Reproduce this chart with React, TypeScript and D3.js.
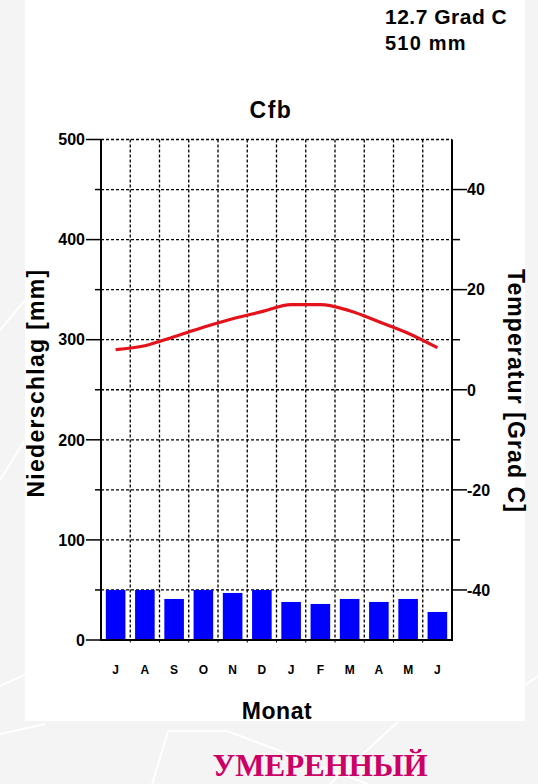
import React from "react";
import * as d3 from "d3";

const months = ["J", "A", "S", "O", "N", "D", "J", "F", "M", "A", "M", "J"];
const precipitation = [50, 50, 41, 50, 47, 50, 38, 36, 41, 38, 41, 28];
const temperature = [8, 8.8, 10.6, 12.5, 14.2, 15.6, 17, 17, 15.8, 13.6, 11.3, 8.4];
const precipTicks = [0, 100, 200, 300, 400, 500];
const precipMinorTicks = [50, 150, 250, 350, 450];
const precipGrid = [50, 100, 150, 200, 250, 300, 350, 400, 450, 500];
const tempTicks = [-40, -20, 0, 20, 40];
const tempMinorTicks = [-30, -10, 10, 30];
const titleText = "Cfb";
const meanTempText = "12.7 Grad C";
const totalPrecipText = "510 mm";
const xTitle = "Monat";
const leftTitle = "Niederschlag [mm]";
const rightTitle = "Temperatur [Grad C]";
const caption = "УМЕРЕННЫЙ";

const W = 538;
const H = 784;
const left = 101;
const right = 452;
const top = 139.5;
const bottom = 640;
const sans = "'Liberation Sans', Arial, Helvetica, sans-serif";

export default function App() {
  const x = d3
    .scaleBand<number>()
    .domain(d3.range(months.length))
    .range([left, right])
    .paddingInner(0.33)
    .paddingOuter(0.165);
  const step = x.step();
  const yP = d3.scaleLinear().domain([0, 500]).range([bottom, top]);
  const yT = d3.scaleLinear().domain([-50, 50]).range([bottom, top]);
  const cx = (i: number) => (x(i) as number) + x.bandwidth() / 2;
  const line = d3
    .line<number>()
    .x((_, i) => cx(i))
    .y((d) => yT(d))
    .curve(d3.curveMonotoneX);
  const boundaries = d3.range(1, months.length).map((i) => left + i * step);

  const bgLines = [
    "M0,686 L26,674",
    "M0,734 L45,724",
    "M168,731 L227,731 L378,788",
    "M168,731 L151,788",
    "M0,480 L25,440",
    "M0,330 L25,300",
    "M400,720 L330,784",
    "M525,685 L538,676",
  ];

  return (
    <svg
      width={W}
      height={H}
      style={{ position: "absolute", left: 0, top: 0, display: "block" }}
      fontFamily={sans}
    >
      <rect x={0} y={0} width={W} height={H} fill="#f4f4f4" />
      {bgLines.map((d, i) => (
        <path key={i} d={d} stroke="#ffffff" strokeWidth={2} fill="none" />
      ))}
      <rect x={25} y={0} width={500} height={721} fill="#ffffff" />

      {/* header texts */}
      <text x={385} y={24} fontSize={21} fontWeight="bold" letterSpacing={0.5}>
        {meanTempText}
      </text>
      <text x={385} y={50} fontSize={20} fontWeight="bold" letterSpacing={1.2}>
        {totalPrecipText}
      </text>
      <text x={271} y={118} fontSize={23} fontWeight="bold" textAnchor="middle" letterSpacing={1.5}>
        {titleText}
      </text>

      {/* horizontal grid */}
      {precipGrid.map((v) => (
        <line
          key={"h" + v}
          x1={left}
          x2={right}
          y1={yP(v)}
          y2={yP(v)}
          stroke="#000"
          strokeWidth={1.3}
          strokeDasharray="3,2"
        />
      ))}
      {/* vertical grid */}
      {boundaries.map((bx, i) => (
        <line
          key={"v" + i}
          x1={bx}
          x2={bx}
          y1={top}
          y2={bottom}
          stroke="#000"
          strokeWidth={1.3}
          strokeDasharray="3,2"
        />
      ))}

      {/* bars */}
      {precipitation.map((v, i) => (
        <rect
          key={"b" + i}
          x={x(i)}
          y={yP(v)}
          width={x.bandwidth()}
          height={yP(0) - yP(v)}
          fill="#0000ff"
        />
      ))}

      {/* temperature line */}
      <path d={line(temperature) || ""} fill="none" stroke="#e3121b" strokeWidth={3.2} strokeLinejoin="round" />

      {/* axes */}
      <line x1={left} x2={left} y1={top} y2={bottom + 1} stroke="#000" strokeWidth={2} />
      <line x1={right} x2={right} y1={top} y2={bottom + 1} stroke="#000" strokeWidth={2} />
      <line x1={left} x2={right} y1={bottom} y2={bottom} stroke="#000" strokeWidth={2} />
      {boundaries.map((bx, i) => (
        <line key={"bt" + i} x1={bx} x2={bx} y1={bottom} y2={bottom + 2.5} stroke="#000" strokeWidth={1} />
      ))}

      {/* left ticks */}
      {precipTicks.map((v) => (
        <g key={"lt" + v}>
          <line x1={left - 15} x2={left} y1={yP(v)} y2={yP(v)} stroke="#000" strokeWidth={1.5} />
          <text x={left - 16} y={yP(v)} dy="0.36em" fontSize={16} fontWeight="bold" textAnchor="end">
            {v}
          </text>
        </g>
      ))}
      {precipMinorTicks.map((v) => (
        <line key={"lm" + v} x1={left - 6} x2={left} y1={yP(v)} y2={yP(v)} stroke="#000" strokeWidth={1.5} />
      ))}

      {/* right ticks */}
      {tempTicks.map((v) => (
        <g key={"rt" + v}>
          <line x1={right} x2={right + 15} y1={yT(v)} y2={yT(v)} stroke="#000" strokeWidth={1.5} />
          <text x={right + 15} y={yT(v)} dy="0.36em" fontSize={16} fontWeight="bold" textAnchor="start">
            {v}
          </text>
        </g>
      ))}
      {tempMinorTicks.map((v) => (
        <line key={"rm" + v} x1={right} x2={right + 8} y1={yT(v)} y2={yT(v)} stroke="#000" strokeWidth={1.5} />
      ))}

      {/* month labels */}
      {months.map((m, i) => (
        <text key={"m" + i} x={cx(i)} y={674} fontSize={12} fontWeight="bold" textAnchor="middle">
          {m}
        </text>
      ))}

      {/* axis titles */}
      <text x={277} y={719} fontSize={23} fontWeight="bold" textAnchor="middle" letterSpacing={0.6}>
        {xTitle}
      </text>
      <text
        transform="translate(43.5,383) rotate(-90)"
        fontSize={23}
        fontWeight="bold"
        textAnchor="middle"
        letterSpacing={1.3}
      >
        {leftTitle}
      </text>
      <text
        transform="translate(508,391) rotate(90)"
        fontSize={23}
        fontWeight="bold"
        textAnchor="middle"
        letterSpacing={1.1}
      >
        {rightTitle}
      </text>

      {/* caption */}
      <text
        x={320}
        y={776}
        fontSize={31}
        fontWeight="bold"
        textAnchor="middle"
        fill="#cc0066"
        fontFamily="'Liberation Serif', 'Times New Roman', serif"
      >
        {caption}
      </text>
    </svg>
  );
}
